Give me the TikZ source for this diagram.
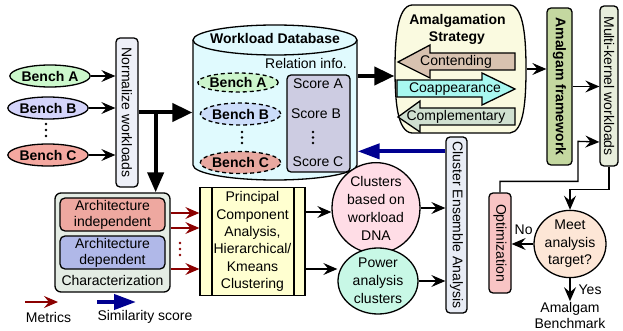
\documentclass[tikz,border=0pt]{standalone}
\usepackage{fontspec}
\setmainfont{Liberation Sans}
\usetikzlibrary{arrows.meta,calc,shapes.geometric}
\definecolor{cBA}{HTML}{CCF8CC}
\definecolor{cBB}{HTML}{D4D4FA}
\definecolor{cBC}{HTML}{F4A8A0}
\definecolor{cdA}{HTML}{CCF5CC}
\definecolor{cdB}{HTML}{CCDDFA}
\definecolor{cdC}{HTML}{E8A8A0}
\definecolor{cNorm}{HTML}{EEF0F8}
\definecolor{cDB}{HTML}{E0FAFE}
\definecolor{cScore}{HTML}{CDCCE2}
\definecolor{cStrat}{HTML}{FAFAE0}
\definecolor{cCont}{HTML}{D8C2B0}
\definecolor{cCoap}{HTML}{A8F8F0}
\definecolor{cComp}{HTML}{D0E0D0}
\definecolor{cFw}{HTML}{C4D8A0}
\definecolor{cMk}{HTML}{E8EEDC}
\definecolor{cCl}{HTML}{E8ECF5}
\definecolor{cDNA}{HTML}{FFDDE6}
\definecolor{cPow}{HTML}{C8F8E6}
\definecolor{cPCA}{HTML}{FFFFD0}
\definecolor{cChar}{HTML}{E4ECE4}
\definecolor{cAI}{HTML}{EEA8A0}
\definecolor{cAD}{HTML}{B0B8E8}
\definecolor{cOpt}{HTML}{F8C4C4}
\definecolor{cMeet}{HTML}{FDE6D6}
\definecolor{metricred}{HTML}{8B0000}
\definecolor{simblue}{HTML}{000090}
\begin{document}
\begin{tikzpicture}[x=1pt,y=-1pt,line width=1.3pt,
  font=\fontsize{14}{17}\selectfont,
  box/.style={draw, rounded corners=4pt, inner sep=0pt},
  lbl/.style={inner sep=0pt, align=center},
  bench/.style={draw, ellipse, minimum width=78pt, minimum height=22pt, inner sep=0pt, font=\fontsize{14}{17}\selectfont\bfseries},
  dbench/.style={bench, dash pattern=on 4pt off 3pt},
  arr/.style={-{Stealth[length=14pt,width=12pt,inset=5pt]}, line width=1.3pt},
  metric/.style={arr, draw=metricred},
  bigarr/.style={-{Triangle[length=20pt,width=18pt]}, line width=4pt},
  simarr/.style={-{Triangle[length=22pt,width=15pt]}, line width=4pt, draw=simblue}
]
\useasboundingbox (0,0) rectangle (623,331);

% ---------- left benches ----------
\node[bench, fill=cBA] (bA) at (50,76) {Bench A};
\node[bench, fill=cBB] (bB) at (48,108) {Bench B};
\node[bench, fill=cBC] (bC) at (48,155) {Bench C};
\foreach \yy in {124,130,136} \fill (46,\yy) circle (1.3);

\node[box, fill=cNorm, minimum width=22pt, minimum height=149pt] (norm) at (127,112.5) {};
\node[rotate=-90, lbl] at (norm) {Normalize workloads};

% ---------- database cylinder ----------
\node[minimum width=164pt, minimum height=155pt, inner sep=0pt] (db) at (275,102.5) {};
\fill[cDB] (193,40) -- (193,165) .. controls (193,173.3) and (229.7,180) .. (275,180)
  .. controls (320.3,180) and (357,173.3) .. (357,165) -- (357,40) -- cycle;
\draw (193,40) -- (193,165) .. controls (193,173.3) and (229.7,180) .. (275,180)
  .. controls (320.3,180) and (357,173.3) .. (357,165) -- (357,40);
\draw[fill=cDB] (275,40) ellipse [x radius=82, y radius=15];
\node[lbl, font=\fontsize{14}{17}\selectfont\bfseries] at (275,38) {Workload Database};
\node[lbl] at (306,63) {Relation info.};
\node[box, fill=cScore, minimum width=63pt, minimum height=97pt] (scb) at (318.5,123.5) {};
\node[lbl] (sA) at (318,84) {Score A};
\node[lbl] (sB) at (316,114) {Score B};
\node[lbl] (sC) at (318,162) {Score C};
\foreach \yy in {132,137.5,143} \fill (313,\yy) circle (1.3);
\node[dbench, fill=cdA, minimum width=80pt, minimum height=19pt] (dA) at (238,82.5) {Bench A};
\node[dbench, fill=cdB] (dB) at (240.5,114) {Bench B};
\node[dbench, fill=cdC] (dC) at (240.5,162.5) {Bench C};
\foreach \yy in {132,137.5,143} \fill (242,\yy) circle (1.3);

% ---------- amalgamation strategy ----------
\node[minimum width=131pt, minimum height=128pt, inner sep=0pt] (strat) at (460.5,69) {};
\draw[fill=cStrat] (412,5) -- (510,5) .. controls (524,6) and (526,40) .. (526,69)
  .. controls (526,100) and (524,132) .. (510,133) -- (412,133)
  .. controls (397,132) and (395,100) .. (395,69)
  .. controls (395,40) and (397,6) .. (412,5) -- cycle;
\node[lbl, font=\fontsize{14}{17}\selectfont\bfseries] at (457.5,21) {Amalgamation};
\node[lbl, font=\fontsize{14}{17}\selectfont\bfseries] at (457,38) {Strategy};
\draw[fill=cCont] (398,62) -- (430,45) -- (430,53) -- (515,53) -- (515,70) -- (430,70) -- (430,78) -- cycle;
\draw[fill=cCoap] (397,80) -- (482,80) -- (482,73) -- (515,89) -- (482,105) -- (482,97) -- (397,97) -- cycle;
\draw[fill=cComp] (398,117) -- (420,101) -- (420,108) -- (515,108) -- (515,125) -- (420,125) -- (420,132) -- cycle;
\node[lbl] at (456,62) {Contending};
\node[lbl] at (455,89) {Coappearance};
\node[lbl] at (456,117) {Complementary};

% ---------- framework and workloads ----------
\node[box, fill=cFw, minimum width=25pt, minimum height=157pt] (fw) at (559.5,86.5) {};
\node[rotate=-90, lbl, font=\fontsize{14}{17}\selectfont\bfseries] at (fw) {Amalgam framework};
\node[box, fill=cMk, minimum width=18pt, minimum height=160pt] (mk) at (609,86) {};
\node[rotate=-90, lbl] at (mk) {Multi-kernel workloads};

% ---------- cluster ensemble ----------
\node[box, fill=cCl, minimum width=21pt, minimum height=176pt] (cl) at (456.5,225) {};
\node[rotate=-90, lbl] at (cl) {Cluster Ensemble Analysis};
\node[draw, ellipse, fill=cDNA, minimum width=88pt, minimum height=84pt, inner sep=0pt, align=center] (dna) at (376,208)
  {Clusters\\[1pt]based on\\[1pt]workload\\[1pt]DNA};
\node[draw, ellipse, fill=cPow, minimum width=80pt, minimum height=66pt, inner sep=0pt, align=center] (pow) at (378,281)
  {Power\\[1pt]analysis\\[1pt]clusters};

% ---------- PCA ----------
\node[draw, fill=cPCA, minimum width=105pt, minimum height=108pt, inner sep=0pt] (pca) at (252.5,241.5) {};
\draw (212,187.5) -- (212,295.5);
\draw (294,187.5) -- (294,295.5);
\node[lbl, font=\fontsize{14}{17.4}\selectfont] at (pca) {Principal\\Component\\Analysis,\\Hierarchical/\\Kmeans\\Clustering};

% ---------- characterization ----------
\node[box, rounded corners=6pt, fill=cChar, minimum width=115pt, minimum height=99pt] (char) at (112.5,242.5) {};
\node[box, rounded corners=5pt, fill=cAI, minimum width=105pt, minimum height=33pt, align=center, font=\fontsize{14}{16}\selectfont] (ai) at (112.5,214.5) {Architecture\\independent};
\node[box, rounded corners=5pt, fill=cAD, minimum width=105pt, minimum height=33pt, align=center, font=\fontsize{14}{16}\selectfont] (ad) at (112.5,252.5) {Architecture\\dependent};
\node[lbl] (chl) at (112.5,280) {Characterization};

% ---------- optimization / decision ----------
\node[box, fill=cOpt, minimum width=22pt, minimum height=100pt] (opt) at (500,243) {};
\node[rotate=-90, lbl] at (opt) {Optimization};
\node[draw, ellipse, fill=cMeet, minimum width=72pt, minimum height=62pt, inner sep=0pt, align=center,
  font=\fontsize{14}{17.5}\selectfont] (meet) at (570,244) {Meet\\analysis\\target?};
\node[lbl, font=\fontsize{14}{16}\selectfont] (amb) at (570,315) {Amalgam\\Benchmark};

% ---------- connectors ----------
\draw[arr] (bA.east) -- (bA.east -| norm.west);
\draw[arr] (bB.east) -- (bB.east -| norm.west);
\draw[arr] (bC.east) -- (bC.east -| norm.west);
\draw[bigarr] (norm.east) -- (norm.east -| db.west);
\coordinate (br) at ($(norm.east)+(17,0)$);
\draw[-{Triangle[length=20pt,width=16pt]}, line width=4pt] (br) -- (br |- char.north);
\coordinate (d1) at ($(db.east)+(0,-26.5)$);
\draw[bigarr] (d1) -- (d1 -| strat.west);
\draw[arr] (strat.east) -- (strat.east -| fw.west);
\draw[arr] (fw.east) -- (fw.east -| mk.west);
\coordinate (c1) at ($(cl.north west)+(0,15)$);
\draw[simarr] (c1) -- (c1 -| db.east);
\coordinate (p1) at ($(pca.east)+(0,-29.5)$);
\draw[arr] (p1) -- (p1 -| dna.west);
\coordinate (p2) at ($(pca.east)+(0,27.5)$);
\draw[arr] (p2) -- (p2 -| pow.west);
\draw[arr] (dna.east) -- (dna.east -| cl.west);
\draw[arr] (pow.east) -- (pow.east -| cl.west);
\coordinate (m1) at ($(char.east)+(0,-29.5)$);
\coordinate (m2) at ($(char.east)+(0,-14.5)$);
\coordinate (m3) at ($(char.east)+(0,26.5)$);
\draw[metric] (m1) -- (m1 -| pca.west);
\draw[metric] (m2) -- (m2 -| pca.west);
\draw[metric] (m3) -- (m3 -| pca.west);
\foreach \yy in {243,249,255} \fill[metricred] (180,\yy) circle (1.3);
\draw[arr] (meet.west) -- (meet.west -| opt.east) node[pos=0.45, above=9pt, lbl] (no) {No};
\draw[arr] (meet.south) -- (amb.north) node[pos=0.5, right=8pt, lbl] (yes) {Yes};
\draw[arr] (opt.north) -- ++(0,-11) -| ++(78,-40) -- (mk.west |- 0,142);
\draw[arr] (mk.south) -- ++(0,23) -| (meet.north);

% ---------- legend ----------
\coordinate (lm1) at (25,302);
\coordinate (lm2) at (58,302);
\draw[metric] (lm1) -- (lm2);
\node[lbl] (lmt) at (48.5,317) {Metrics};
\coordinate (ls1) at (97,302);
\coordinate (ls2) at (136,302);
\draw[simarr] (ls1) -- (ls2);
\node[lbl] (lst) at (145,317) {Similarity score};
\end{tikzpicture}
\end{document}
